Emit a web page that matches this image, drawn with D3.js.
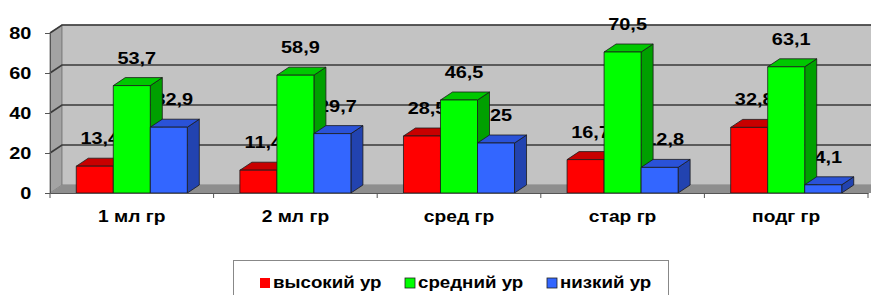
<!DOCTYPE html>
<html>
<head>
<meta charset="utf-8">
<script src="https://cdn.jsdelivr.net/npm/d3@7"></script>
<style>
  body { margin: 0; background: #fff; }
  text { font-family: "Liberation Sans", Arial, sans-serif; font-weight: bold; fill: #000; }
</style>
</head>
<body>
<svg id="chart" width="871" height="295"></svg>
<script>
// ---- data ----
const categories = ['1 мл гр', '2 мл гр', 'сред гр', 'стар гр', 'подг гр'];
const seriesNames = ['высокий ур', 'средний ур', 'низкий ур'];
const highLevel = [13.4, 11.4, 28.5, 16.7, 32.8];
const midLevel = [53.7, 58.9, 46.5, 70.5, 63.1];
const lowLevel = [32.9, 29.7, 25, 12.8, 4.1];
const labelText = [
  ['13,4', '11,4', '28,5', '16,7', '32,8'],
  ['53,7', '58,9', '46,5', '70,5', '63,1'],
  ['32,9', '29,7', '25', '12,8', '4,1']
];
const yTicks = [0, 20, 40, 60, 80];

const seriesValues = [highLevel, midLevel, lowLevel];
const colors = [
  { front: '#ff0000', top: '#c80000', side: '#990000' },
  { front: '#00ff00', top: '#00c800', side: '#00a000' },
  { front: '#3366ff', top: '#2a52d8', side: '#2243b0' }
];

// ---- layout ----
const svg = d3.select('#chart');
const DX = 12, DY = -8; // depth offset of the 3D box
const STRETCH = 'scale(1.17,1)'; // the original's text is a bit wide
const x = d3.scaleBand().domain(categories).range([50, 868]);
const xs = d3.scaleBand().domain(seriesNames).range([0, x.bandwidth()]).paddingOuter(0.71);
const y = d3.scaleLinear().domain([0, 80]).range([193, 33]);

const x0 = 50, x1 = 868, yb = y(0), yt = y(80);
const pts = a => a.map(p => p.join(',')).join(' ');

// walls
svg.append('polygon').attr('points', pts([[x0, yb], [x0, yt], [x0 + DX, yt + DY], [x0 + DX, yb + DY]]))
  .attr('fill', '#a3a3a3').attr('stroke', '#808080');
svg.append('rect').attr('x', x0 + DX).attr('y', yt + DY).attr('width', x1 - x0 + 20).attr('height', yb - yt)
  .attr('fill', '#c3c3c3').attr('stroke', '#808080');
svg.append('polygon').attr('points', pts([[x0, yb], [x0 + DX, yb + DY], [x1 + DX + 20, yb + DY], [x1 + 20, yb]]))
  .attr('fill', '#8e8e8e');

// gridlines
yTicks.filter(t => t > 0).forEach(t => {
  svg.append('path')
    .attr('d', `M${x0},${y(t)}L${x0 + DX},${y(t) + DY}L${x1 + DX + 20},${y(t) + DY}`)
    .attr('fill', 'none').attr('stroke', '#3a3a3a').attr('stroke-width', 1.6);
});

// value labels (drawn behind the bars, as in the original)
seriesValues.forEach((vals, si) => {
  svg.append('g').selectAll('text').data(vals).join('text')
    .attr('transform', (d, i) => {
      const lx = x(categories[i]) + xs(seriesNames[si]) + xs.bandwidth() / 2 + 5;
      return `translate(${lx},${y(d) + DY - 14}) ${STRETCH}`;
    })
    .attr('text-anchor', 'middle')
    .attr('font-size', 17)
    .text((d, i) => labelText[si][i]);
});

// bars
categories.forEach((c, ci) => {
  seriesValues.forEach((vals, si) => {
    const v = vals[ci];
    const bx = x(c) + xs(seriesNames[si]);
    const w = xs.bandwidth();
    const top = y(v);
    const g = svg.append('g').attr('stroke', '#1a1a1a').attr('stroke-width', 0.8).attr('stroke-linejoin', 'round');
    g.append('polygon').attr('points', pts([[bx + w, yb], [bx + w, top], [bx + w + DX, top + DY], [bx + w + DX, yb + DY]]))
      .attr('fill', colors[si].side);
    g.append('polygon').attr('points', pts([[bx, top], [bx + DX, top + DY], [bx + w + DX, top + DY], [bx + w, top]]))
      .attr('fill', colors[si].top);
    g.append('rect').attr('x', bx).attr('y', top).attr('width', w).attr('height', yb - top)
      .attr('fill', colors[si].front);
  });
});

// axes
const yAxis = svg.append('g').attr('transform', `translate(${x0},0)`)
  .call(d3.axisLeft(y).tickValues(yTicks).tickSize(5).tickPadding(11));
yAxis.select('.domain').attr('stroke', '#555');
yAxis.selectAll('.tick line').attr('stroke', '#555');
yAxis.selectAll('text').attr('font-size', 17).attr('font-family', '"Liberation Sans", Arial, sans-serif')
  .attr('font-weight', 'bold').attr('fill', '#000').attr('transform', STRETCH);

const xAxis = svg.append('g').attr('transform', `translate(0,${yb})`)
  .call(d3.axisBottom(x).tickSize(0).tickPadding(18));
xAxis.select('.domain').attr('stroke', '#555');
xAxis.selectAll('text').attr('font-size', 16).attr('font-family', '"Liberation Sans", Arial, sans-serif')
  .attr('font-weight', 'bold').attr('fill', '#000').attr('transform', 'scale(1.2,1)');
xAxis.append('g').selectAll('line').data(d3.range(categories.length + 1)).join('line')
  .attr('x1', i => x0 + i * x.step()).attr('x2', i => x0 + i * x.step())
  .attr('y1', 0).attr('y2', 5).attr('stroke', '#555');

// legend
const lg = svg.append('g');
lg.append('rect').attr('x', 233.5).attr('y', 260.5).attr('width', 435).attr('height', 50)
  .attr('fill', '#fff').attr('stroke', '#888');
const legendX = [260, 405, 547];
seriesNames.forEach((s, i) => {
  lg.append('rect').attr('x', legendX[i]).attr('y', 278).attr('width', 10).attr('height', 10)
    .attr('fill', colors[i].front).attr('stroke', i ? '#222' : 'none').attr('stroke-width', 0.8);
  lg.append('text').attr('transform', `translate(${legendX[i] + 13},288) ${STRETCH}`)
    .attr('font-size', 16).text(s);
});
</script>
</body>
</html>
